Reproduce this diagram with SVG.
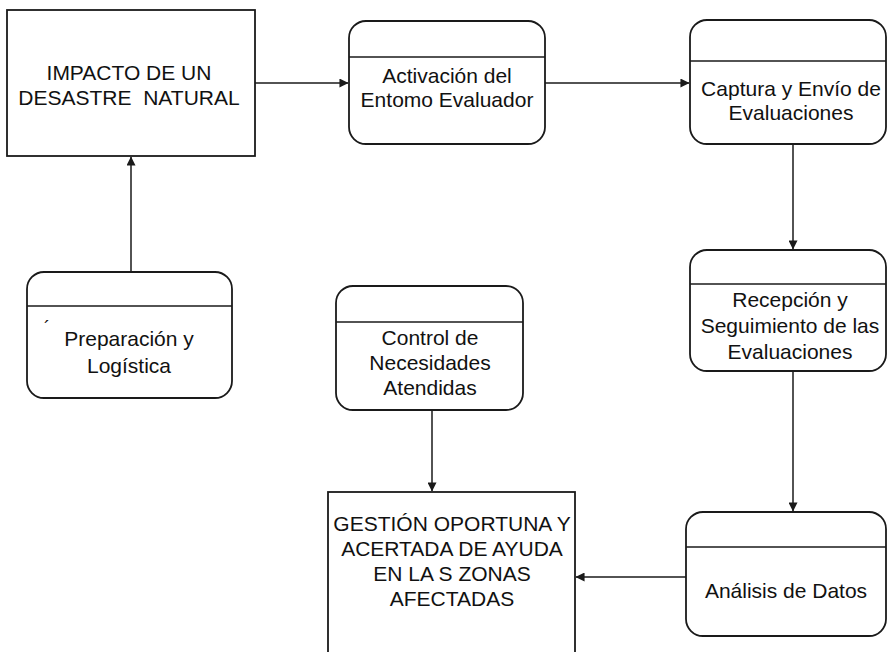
<svg xmlns="http://www.w3.org/2000/svg" width="888" height="652" viewBox="0 0 888 652">
<style>
.box{fill:#fff;stroke:#1a1a1a;stroke-width:1.8}
.hdr{stroke:#1a1a1a;stroke-width:1.6}
.lbl{font-family:"Liberation Sans",Arial,sans-serif;font-size:21px;fill:#111;text-anchor:middle}
.con{fill:none;stroke:#1a1a1a;stroke-width:1.5}
</style>
<defs>
<marker id="ah" viewBox="0 0 10 10" refX="9.5" refY="5" markerWidth="9" markerHeight="9" markerUnits="userSpaceOnUse" orient="auto">
<path d="M0,0 L10,5 L0,10 z" fill="#1a1a1a"/>
</marker>
</defs>
<rect width="888" height="652" fill="#fff"/>
<g id="connectors">
<line class="con" x1="255" y1="83" x2="348" y2="83" marker-end="url(#ah)"/>
<line class="con" x1="545" y1="83" x2="689" y2="83" marker-end="url(#ah)"/>
<line class="con" x1="793" y1="144" x2="793" y2="249" marker-end="url(#ah)"/>
<line class="con" x1="793" y1="371" x2="793" y2="511" marker-end="url(#ah)"/>
<line class="con" x1="686" y1="577" x2="576" y2="577" marker-end="url(#ah)"/>
<line class="con" x1="432" y1="410" x2="432" y2="491" marker-end="url(#ah)"/>
<line class="con" x1="131" y1="272" x2="131" y2="157" marker-end="url(#ah)"/>
</g>
<g id="impacto">
<rect class="box" x="7" y="10" width="248" height="146"/>
<text class="lbl" x="129" y="80">IMPACTO DE UN</text>
<text class="lbl" x="129" y="105" xml:space="preserve">DESASTRE  NATURAL</text>
</g>
<g id="activacion">
<rect class="box" x="349" y="21" width="196" height="123" rx="17"/>
<line class="hdr" x1="349" y1="57" x2="545" y2="57"/>
<text class="lbl" x="447" y="83">Activación del</text>
<text class="lbl" x="447" y="107">Entomo Evaluador</text>
</g>
<g id="captura">
<rect class="box" x="690" y="20" width="196" height="124" rx="17"/>
<line class="hdr" x1="690" y1="61" x2="886" y2="61"/>
<text class="lbl" x="791" y="96">Captura y Envío de</text>
<text class="lbl" x="791" y="120">Evaluaciones</text>
</g>
<g id="recepcion">
<rect class="box" x="690" y="250" width="196" height="121" rx="17"/>
<line class="hdr" x1="690" y1="284" x2="886" y2="284"/>
<text class="lbl" x="790" y="307">Recepción y</text>
<text class="lbl" x="790" y="333">Seguimiento de las</text>
<text class="lbl" x="790" y="359">Evaluaciones</text>
</g>
<g id="preparacion">
<rect class="box" x="27" y="272" width="205" height="126" rx="17"/>
<line class="hdr" x1="27" y1="306" x2="232" y2="306"/>
<text class="lbl" x="47" y="334" style="font-size:18px">´</text>
<text class="lbl" x="129" y="346">Preparación y</text>
<text class="lbl" x="129" y="373">Logística</text>
</g>
<g id="control">
<rect class="box" x="336" y="286" width="187" height="124" rx="17"/>
<line class="hdr" x1="336" y1="322" x2="523" y2="322"/>
<text class="lbl" x="430" y="345">Control de</text>
<text class="lbl" x="430" y="370">Necesidades</text>
<text class="lbl" x="430" y="395">Atendidas</text>
</g>
<g id="gestion">
<rect class="box" x="328" y="492" width="247" height="170"/>
<text class="lbl" x="452" y="531">GESTIÓN OPORTUNA Y</text>
<text class="lbl" x="452" y="556">ACERTADA DE AYUDA</text>
<text class="lbl" x="452" y="581">EN LA S ZONAS</text>
<text class="lbl" x="452" y="606">AFECTADAS</text>
</g>
<g id="analisis">
<rect class="box" x="686" y="512" width="200" height="124" rx="17"/>
<line class="hdr" x1="686" y1="547" x2="886" y2="547"/>
<text class="lbl" x="786" y="598">Análisis de Datos</text>
</g>
</svg>
